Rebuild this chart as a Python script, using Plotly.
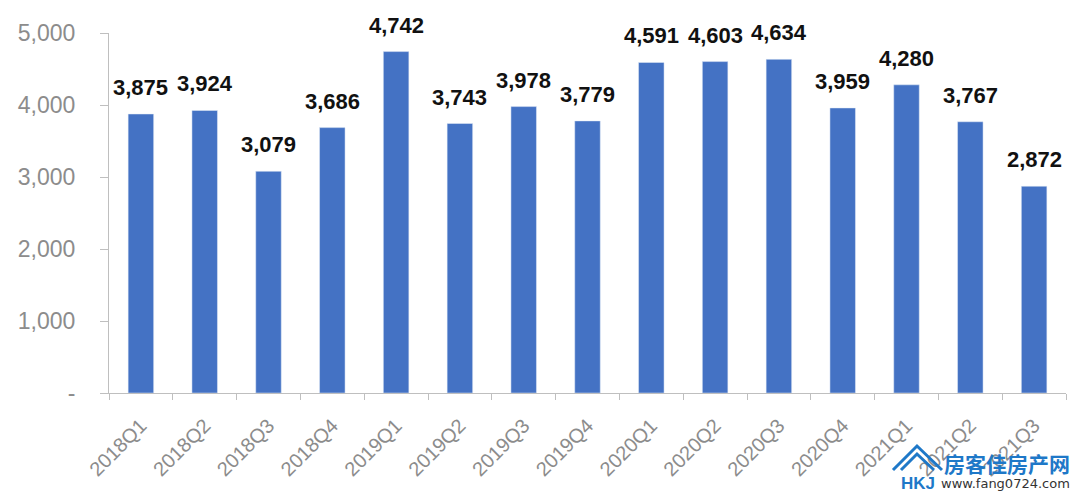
import plotly.graph_objects as go

categories = ["2018Q1", "2018Q2", "2018Q3", "2018Q4", "2019Q1", "2019Q2", "2019Q3", "2019Q4",
              "2020Q1", "2020Q2", "2020Q3", "2020Q4", "2021Q1", "2021Q2", "2021Q3"]
values = [3875, 3924, 3079, 3686, 4742, 3743, 3978, 3779,
          4591, 4603, 4634, 3959, 4280, 3767, 2872]
ytick_vals = [0, 1000, 2000, 3000, 4000, 5000]
ytick_text = ["-", "1,000", "2,000", "3,000", "4,000", "5,000"]

L, R, T, B = 109, 14, 33, 105
PW, PH = 1080 - L - R, 498 - T - B


def px(x):
    return (x - L) / PW


def py(y):
    return (498 - B - y) / PH


fig = go.Figure()
fig.add_trace(go.Bar(x=categories, y=values, marker_color="#4472C4", width=0.4,
                     hoverinfo="x+y"))

for c, v in zip(categories, values):
    fig.add_annotation(x=c, y=v, text=f"<b>{v:,}</b>", showarrow=False,
                       yanchor="bottom", yshift=12,
                       font=dict(family="Liberation Sans, Arial", size=22, color="#111111"))

# watermark
blue = "#1E78C8"
fig.add_annotation(xref="paper", yref="paper", x=px(1072), y=py(463), xanchor="right", yanchor="middle",
                   text="<b>房客佳房产网</b>", showarrow=False,
                   font=dict(family="Noto Sans CJK SC", size=21, color=blue))
fig.add_annotation(xref="paper", yref="paper", x=px(1072), y=py(483), xanchor="right", yanchor="middle",
                   text="www.fang0724.com", showarrow=False,
                   font=dict(family="DejaVu Sans", size=13, color="#333333"))
for pts in ([(893, 470), (917, 446), (942, 470)], [(901, 470), (917, 454), (934, 470)]):
    path = "M " + " L ".join(f"{px(a)},{py(b)}" for a, b in pts)
    fig.add_shape(type="path", xref="paper", yref="paper", path=path,
                  line=dict(color=blue, width=3))
fig.add_annotation(xref="paper", yref="paper", x=px(918), y=py(483), xanchor="center", yanchor="middle",
                   text="<b>HKJ</b>", showarrow=False,
                   font=dict(family="Liberation Sans", size=17, color=blue))

fig.update_layout(
    width=1080, height=498,
    margin=dict(l=L, r=R, t=T, b=B),
    plot_bgcolor="white", paper_bgcolor="white",
    showlegend=False,
    bargap=0.6,
    font=dict(family="Liberation Sans, Arial", color="#8C8C8C"),
    xaxis=dict(type="category", showline=True, linecolor="#BFBFBF", linewidth=1,
               ticks="outside", tickson="boundaries", ticklen=6, tickcolor="#BFBFBF",
               ticklabelstandoff=12,
               tickangle=-45, tickfont=dict(size=20, color="#8C8C8C"), showgrid=False),
    yaxis=dict(range=[0, 5000], tickvals=ytick_vals, ticktext=ytick_text,
               showline=True, linecolor="#BFBFBF", linewidth=1,
               ticks="outside", ticklen=8, tickcolor="#BFBFBF", ticklabelstandoff=20,
               tickfont=dict(size=23, color="#8C8C8C"), showgrid=False, zeroline=False),
)

fig.write_html("out.html")
